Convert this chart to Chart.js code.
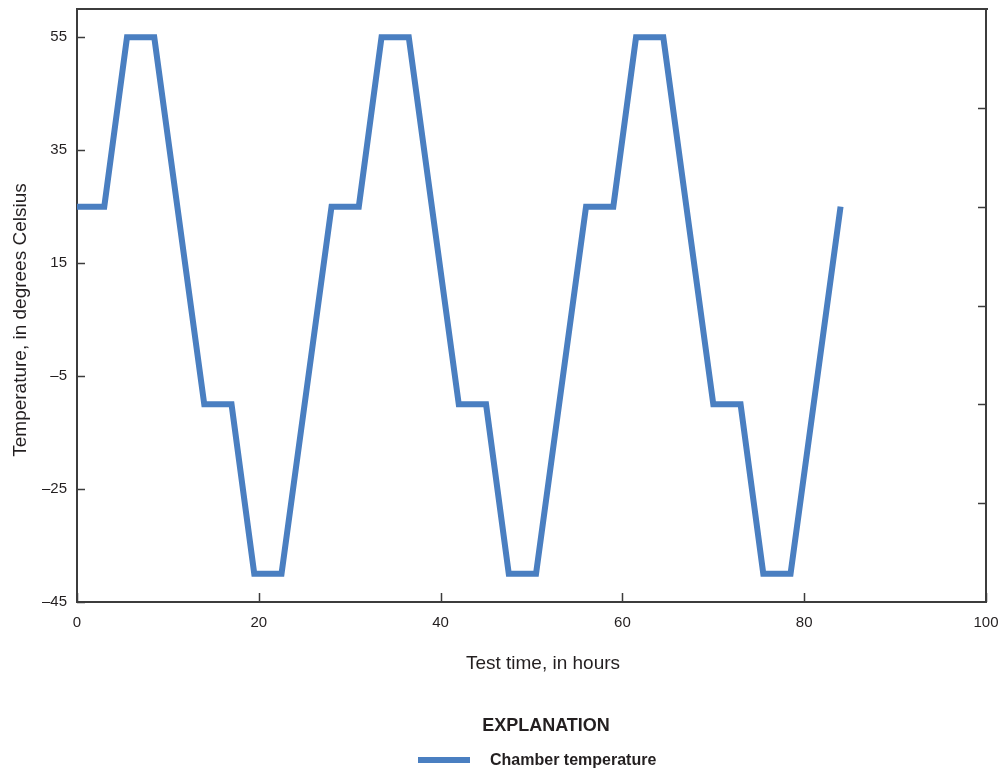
<!DOCTYPE html>
<html>
<head>
<meta charset="utf-8">
<script src="https://cdn.jsdelivr.net/npm/chart.js@4/dist/chart.umd.min.js"></script>
<style>
  html, body { margin: 0; padding: 0; background: #ffffff; }
  canvas { display: block; }
</style>
</head>
<body>
<canvas id="c" width="998" height="771"></canvas>
<script>
// ---- Data ----
const timeHours = [0, 3, 5.5, 8.5, 14, 17, 19.5, 22.5, 28, 31, 33.5, 36.5, 42, 45, 47.5, 50.5, 56, 59, 61.5, 64.5, 70, 73, 75.5, 78.5, 84];
const tempC     = [25, 25, 55, 55, -10, -10, -40, -40, 25, 25, 55, 55, -10, -10, -40, -40, 25, 25, 55, 55, -10, -10, -40, -40, 25];
const xTicks  = [0, 20, 40, 60, 80, 100];
const yTicks  = [-45, -25, -5, 15, 35, 55];
const y2Ticks = [-27.5, -10, 7.5, 25, 42.5];
const seriesLabel = 'Chamber temperature';
const xTitle = 'Test time, in hours';
const yTitle = 'Temperature, in degrees Celsius';
const legendTitle = 'EXPLANATION';

const FONT = "'Liberation Sans', Arial, sans-serif";
const AXIS = '#3c3c3c';
const TEXT = '#231f20';
const LINE = '#4a7fc1';

const framePlugin = {
  id: 'frame',
  afterDraw(chart) {
    const ctx = chart.ctx;
    const a = chart.chartArea;
    const sx = chart.scales.x, sy = chart.scales.y, sy2 = chart.scales.y2;
    ctx.save();
    ctx.strokeStyle = AXIS;
    ctx.lineWidth = 2;
    // top border
    ctx.beginPath();
    ctx.moveTo(a.left - 1, a.top);
    ctx.lineTo(a.right + 2, a.top);
    ctx.stroke();
    // inner ticks
    ctx.lineWidth = 1.5;
    ctx.beginPath();
    sx.ticks.forEach(t => {
      const p = Math.round(sx.getPixelForValue(t.value)) + 0.5;
      ctx.moveTo(p, a.bottom); ctx.lineTo(p, a.bottom - 9);
    });
    sy.ticks.forEach(t => {
      const p = Math.round(sy.getPixelForValue(t.value)) + 0.5;
      ctx.moveTo(a.left, p); ctx.lineTo(a.left + 8, p);
    });
    sy2.ticks.forEach(t => {
      const p = Math.round(sy2.getPixelForValue(t.value)) + 0.5;
      ctx.moveTo(a.right, p); ctx.lineTo(a.right - 8, p);
    });
    ctx.stroke();

    // axis titles
    ctx.fillStyle = TEXT;
    ctx.textBaseline = 'alphabetic';
    ctx.textAlign = 'center';
    ctx.font = "19px " + FONT;
    ctx.fillText(xTitle, 543, 669);
    ctx.save();
    ctx.translate(26, 320);
    ctx.rotate(-Math.PI / 2);
    ctx.fillText(yTitle, 0, 0);
    ctx.restore();

    // explanation / legend
    const ds = chart.data.datasets[0];
    ctx.font = "bold 18px " + FONT;
    ctx.fillText(legendTitle, 546, 731);
    ctx.strokeStyle = ds.borderColor;
    ctx.lineWidth = 6;
    ctx.beginPath();
    ctx.moveTo(418, 760); ctx.lineTo(470, 760);
    ctx.stroke();
    ctx.textAlign = 'left';
    ctx.font = "bold 16px " + FONT;
    ctx.fillText(ds.label, 490, 765);
    ctx.restore();
  }
};

const dash = v => (v < 0 ? '\u2013' + Math.abs(v) : String(v));
const zeroPad = s => { s.paddingLeft = 0; s.paddingRight = 0; s.paddingTop = 0; s.paddingBottom = 0; };

new Chart(document.getElementById('c'), {
  type: 'line',
  data: {
    datasets: [{
      label: seriesLabel,
      data: timeHours.map((t, i) => ({ x: t, y: tempC[i] })),
      borderColor: LINE,
      backgroundColor: LINE,
      borderWidth: 6,
      pointRadius: 0,
      tension: 0,
      fill: false,
      borderJoinStyle: 'miter'
    }]
  },
  options: {
    responsive: false,
    animation: false,
    devicePixelRatio: 1,
    layout: { padding: { left: 0, right: 12, top: 9, bottom: 0 } },
    plugins: { legend: { display: false }, tooltip: { enabled: false } },
    scales: {
      x: {
        type: 'linear', position: 'bottom', min: 0, max: 100,
        afterBuildTicks: s => { s.ticks = xTicks.map(v => ({ value: v })); },
        afterFit: s => { s.height = 169; zeroPad(s); },
        grid: { display: false, drawTicks: false },
        border: { display: true, color: AXIS, width: 2 },
        ticks: { font: { family: FONT, size: 15 }, color: TEXT, padding: 12, maxRotation: 0, autoSkip: false, callback: v => dash(v) }
      },
      y: {
        type: 'linear', position: 'left', min: -45, max: 60,
        afterBuildTicks: s => { s.ticks = yTicks.map(v => ({ value: v })); },
        afterFit: s => { s.width = 77; zeroPad(s); },
        grid: { display: false, drawTicks: false },
        border: { display: true, color: AXIS, width: 2 },
        ticks: { font: { family: FONT, size: 15 }, color: TEXT, padding: 10, autoSkip: false, callback: v => dash(v) }
      },
      y2: {
        type: 'linear', position: 'right', min: -45, max: 60,
        afterBuildTicks: s => { s.ticks = y2Ticks.map(v => ({ value: v })); },
        afterFit: s => { s.width = 0; zeroPad(s); },
        grid: { display: false, drawTicks: false },
        border: { display: true, color: AXIS, width: 2 },
        ticks: { display: false }
      }
    }
  },
  plugins: [framePlugin]
});
</script>
</body>
</html>
